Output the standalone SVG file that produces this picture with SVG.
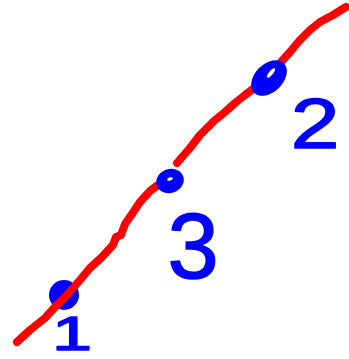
<svg xmlns="http://www.w3.org/2000/svg" width="349" height="359" viewBox="0 0 349 359">
<style>
.red{fill:none;stroke:#ff0000;stroke-width:8;stroke-linecap:round;stroke-linejoin:round}
.blob{fill:#0000ff}
.hole{fill:#ffffff}
.num{fill:#0000ff;stroke:#0000ff;stroke-width:1.5;stroke-linejoin:round;font-family:"Liberation Sans",Arial,sans-serif;text-anchor:middle}
</style>
<rect width="349" height="359" fill="#ffffff"/>
<g id="p1">
<circle class="blob" cx="64" cy="295" r="15"/>
<text class="num" x="72" y="350" font-size="48" transform="translate(72 350) scale(1.5 1) translate(-72 -350)">1</text>
</g>
<g id="connectors">
<path class="red" d="M17,342 L30,330 L45,318 L56,306 L67,295 L80,280 L90,268 L102,257 L113,245 L116,237 L121,235 L125,224 L132,214 L140,202 L150,191 L158,185"/>
<path class="red" d="M177,163 L190,148 L200,135 L206,129 L214,121 L225,112 L235,103 L245,95 L253,89"/>
<path class="red" d="M281,62 L290,52 L300,40 L310,30 L320,22 L333,15 L346,7"/>
</g>
<g id="p3">
<ellipse class="blob" cx="170" cy="181" rx="14" ry="12" transform="rotate(-20 170 181)"/>
<ellipse class="hole" cx="170" cy="179" rx="3" ry="1.5" transform="rotate(-20 170 179)"/>
<text class="num" x="193" y="278" font-size="92">3</text>
</g>
<g id="p2">
<ellipse class="blob" cx="269" cy="78" rx="21" ry="14" transform="rotate(-45 269 78)"/>
<ellipse class="hole" cx="271" cy="73" rx="6" ry="2" transform="rotate(-50 271 73)"/>
<text class="num" x="315" y="148" font-size="70" transform="translate(315 148) scale(1.25 1) translate(-315 -148)">2</text>
</g>
</svg>
